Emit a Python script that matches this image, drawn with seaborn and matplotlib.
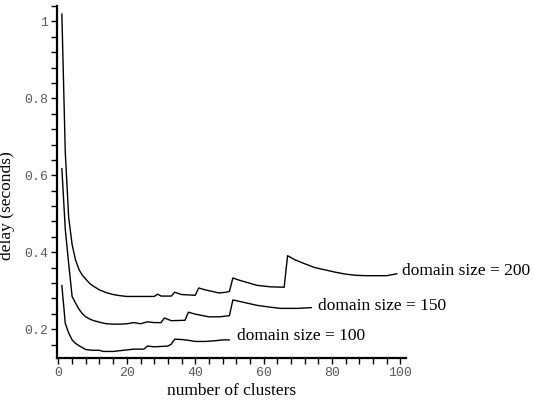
import matplotlib
matplotlib.use("Agg")
import matplotlib.pyplot as plt
from matplotlib.ticker import MultipleLocator
import seaborn as sns
import pandas as pd

# ---- data ----
x100 = [1, 2, 3, 4, 5, 6, 7, 8, 10, 12, 13, 16, 18, 20, 22, 25, 26, 28, 30, 32, 33, 34, 36, 38, 40, 43, 46, 48, 50]
y100 = [0.314, 0.215, 0.19, 0.172, 0.163, 0.157, 0.152, 0.147, 0.145, 0.145, 0.142, 0.142, 0.144, 0.146, 0.148,
        0.148, 0.156, 0.154, 0.155, 0.156, 0.161, 0.174, 0.173, 0.171, 0.168, 0.168, 0.170, 0.172, 0.172]

x150 = [1, 2, 3, 4, 5, 6, 7, 8, 9, 10, 12, 14, 16, 18, 20, 22, 24, 26, 28, 30, 31, 33, 37, 38, 40, 44, 47, 50,
        51, 53, 58, 62, 65, 70, 74]
y150 = [0.618, 0.46, 0.37, 0.285, 0.268, 0.252, 0.24, 0.232, 0.227, 0.223, 0.218, 0.214, 0.213, 0.213, 0.214,
        0.217, 0.214, 0.219, 0.217, 0.217, 0.229, 0.222, 0.223, 0.244, 0.239, 0.232, 0.232, 0.235,
        0.276, 0.272, 0.262, 0.257, 0.254, 0.254, 0.256]

x200 = [1, 2, 3, 4, 5, 6, 7, 8, 9, 10, 12, 14, 16, 18, 20, 24, 28, 29, 30, 33, 34, 36, 40, 41, 43, 47, 49, 50,
        51, 53, 58, 62, 66, 67, 69, 72, 75, 78, 81, 84, 87, 90, 96, 99]
y200 = [1.02, 0.66, 0.49, 0.42, 0.38, 0.355, 0.34, 0.33, 0.32, 0.313, 0.302, 0.295, 0.29, 0.287, 0.285, 0.285,
        0.285, 0.291, 0.286, 0.286, 0.296, 0.29, 0.288, 0.307, 0.302, 0.294, 0.296, 0.298,
        0.333, 0.327, 0.314, 0.31, 0.309, 0.391, 0.381, 0.37, 0.36, 0.354, 0.348, 0.343, 0.34, 0.339, 0.339, 0.344]

series_labels = ["domain size = 100", "domain size = 150", "domain size = 200"]
x_label = "number of clusters"
y_label = "delay (seconds)"

frames = []
for lab, xs, ys in zip(series_labels, [x100, x150, x200], [y100, y150, y200]):
    frames.append(pd.DataFrame({"clusters": xs, "delay": ys, "series": lab}))
df = pd.concat(frames, ignore_index=True)

sns.set_theme(style="ticks")
plt.rcParams["font.family"] = ["Liberation Serif", "DejaVu Serif"]

fig = plt.figure(figsize=(5.34, 4.04), dpi=100)
ax = fig.add_axes([0.1075, 0.1139, 0.652, 0.871])

sns.lineplot(data=df, x="clusters", y="delay", hue="series",
             palette={s: "black" for s in series_labels}, linewidth=1.0,
             legend=False, ax=ax, sort=False)

ax.set_xlim(-0.3, 101.5)
ax.set_ylim(0.125, 1.04)
ax.xaxis.set_major_locator(MultipleLocator(20))
ax.xaxis.set_minor_locator(MultipleLocator(4))
ax.yaxis.set_major_locator(MultipleLocator(0.2))
ax.yaxis.set_minor_locator(MultipleLocator(0.04))
ax.set_yticks([0.2, 0.4, 0.6, 0.8, 1.0])
ax.set_yticklabels(["0.2", "0.4", "0.6", "0.8", "1"])
ax.set_xticks([0, 20, 40, 60, 80, 100])
ax.set_xticklabels(["0", "20", "40", "60", "80", "100"])

for lab in ax.get_xticklabels() + ax.get_yticklabels():
    lab.set_fontfamily("Liberation Mono")
    lab.set_fontsize(9.5)
    lab.set_color("#5a5a5a")

ax.tick_params(which="both", direction="out", length=4.5, width=1.0, color="black")
ax.tick_params(axis="y", which="major", pad=2)
ax.tick_params(axis="x", which="major", pad=2)

for side in ["top", "right"]:
    ax.spines[side].set_visible(False)
for side in ["left", "bottom"]:
    ax.spines[side].set_linewidth(1.6)
    ax.spines[side].set_color("black")

ax.set_xlabel(x_label, fontsize=12.5, color="black", labelpad=3)
ax.set_ylabel(y_label, fontsize=12.5, color="black")
ax.yaxis.set_label_coords(-0.122, 0.432)

offsets = [(5.5, 3.0), (5.0, 1.5), (3.5, 2.0)]
for lab, xs, ys, off in zip(series_labels, [x100, x150, x200], [y100, y150, y200], offsets):
    ax.annotate(lab, xy=(xs[-1], ys[-1]), xytext=off, textcoords="offset points",
                ha="left", va="center", fontsize=12.5, color="black", annotation_clip=False)

fig.savefig("out.png", dpi=100)
